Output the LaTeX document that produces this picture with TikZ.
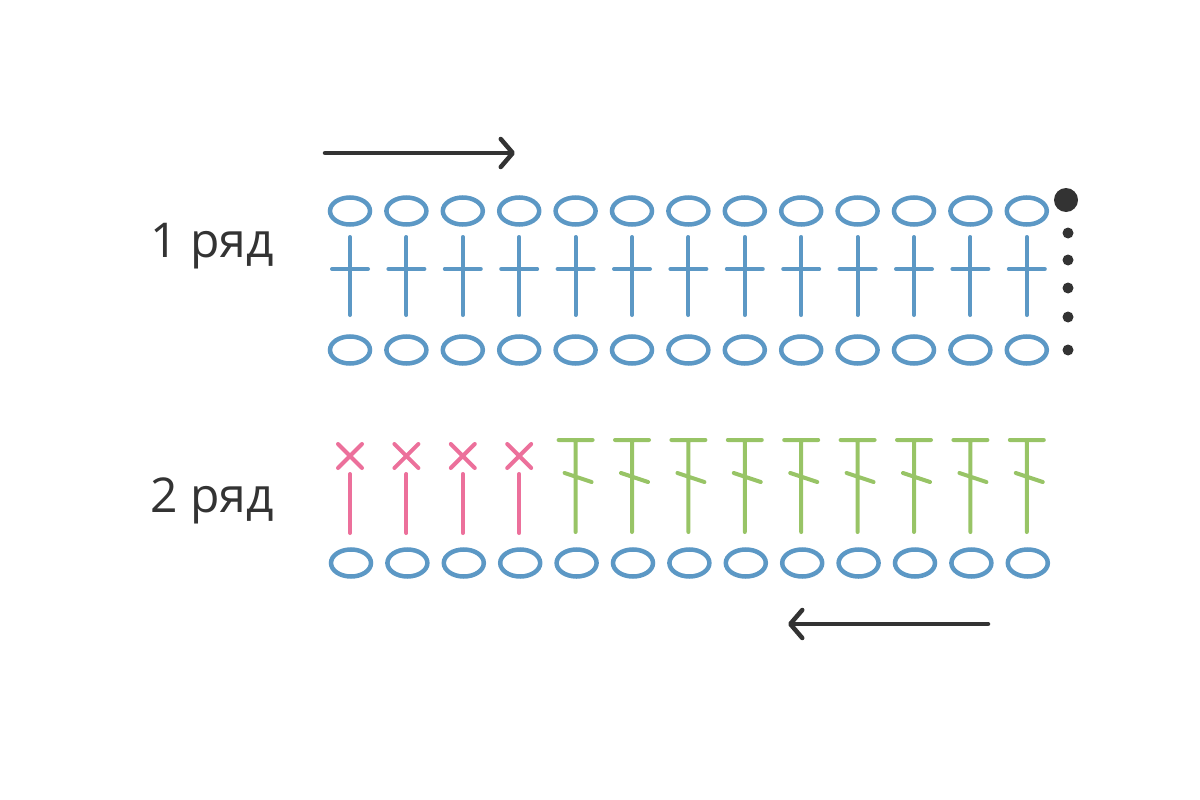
\documentclass[tikz,border=0pt]{standalone}
\usepackage{fontspec}
\setmainfont{Open Sans}
\usetikzlibrary{shapes.geometric, arrows.meta, positioning}
\definecolor{chainblue}{RGB}{92,152,197}
\definecolor{scpink}{RGB}{236,112,155}
\definecolor{hdcgreen}{RGB}{152,196,102}
\definecolor{markgrey}{RGB}{51,51,51}
\tikzset{
  chain/.style={ellipse, draw=chainblue, line width=4.5pt, minimum width=40pt, minimum height=27pt, inner sep=0pt},
  stitch/.style={line width=4pt, line cap=round},
  dirarrow/.style={draw=markgrey, line width=4.5pt, line cap=round, -{Straight Barb[length=12pt, width=28pt, round]}},
  rowlabel/.style={font=\fontsize{48}{58}\selectfont, text=markgrey, anchor=base west, inner sep=0pt}
}
\begin{document}
\begin{tikzpicture}[x=1pt, y=-1pt]
\useasboundingbox (0,0) rectangle (1200,800);
\node [rowlabel] (row1) at (150,257) {1 ряд};
\node [rowlabel] (row2) at (150,512) {2 ряд};
\foreach \i in {0,...,12} {
  \node [chain] (top-\i) at ({350+56.4*\i},211) {};
  \node [chain] (base-\i) at ({350+56.4*\i},350) {};
  \node [chain] (low-\i) at ({351+56.4*\i},563) {};
  \draw [stitch, chainblue] ({350+56.4*\i},237) -- ++(0,78);
  \draw [stitch, chainblue] ({332+56.4*\i},269) -- ++(36,0);
}
\foreach \i in {0,...,3} {
  \draw [stitch, scpink] ({338+56.4*\i},444) -- ++(24,24) ({338+56.4*\i},468) -- ++(24,-24);
  \draw [stitch, scpink] ({350+56.4*\i},474) -- ++(0,59);
}
\foreach \i in {4,...,12} {
  \draw [stitch, hdcgreen] ({333+56.4*\i},440) -- ++(34,0) ({350+56.4*\i},440) -- ++(0,92) ({339+56.4*\i},473) -- ++(27,9);
}
\fill [markgrey] (1066,200) circle [radius=12pt];
\foreach \y in {233,260,288,317,350} \fill [markgrey] (1068,\y) circle [radius=5.5pt];
\coordinate (r1-from) at (325,153);
\coordinate (r1-to) at (515,153);
\coordinate (r2-from) at (988,624);
\coordinate (r2-to) at (788,624);
\draw [dirarrow] (r1-from) -- (r1-to);
\draw [dirarrow] (r2-from) -- (r2-to);
\end{tikzpicture}
\end{document}
